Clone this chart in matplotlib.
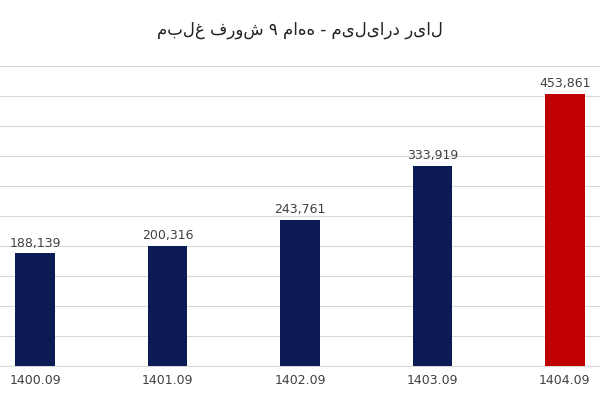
import matplotlib
matplotlib.use("Agg")
import matplotlib.pyplot as plt

categories = ["1400.09", "1401.09", "1402.09", "1403.09", "1404.09"]
values = [188139, 200316, 243761, 333919, 453861]
colors = ["#0c1a55", "#0c1a55", "#0c1a55", "#0c1a55", "#c00000"]
title = "مبلغ فروش ۹ ماهه - میلیارد ریال"

plt.rcParams['font.family'] = ['DejaVu Sans']
fig = plt.figure(figsize=(6, 4), dpi=100)
ax = fig.add_axes([0, 0.085, 1, 0.75])
x = range(len(categories))
bars = ax.bar(x, values, width=0.3, color=colors, zorder=3)
for xi, v in zip(x, values):
    ax.text(xi, v + 6000, f"{v:,}", ha="center", va="bottom", fontsize=9, color="#404040")
ax.set_xlim(-0.265, 4.265)
ax.set_ylim(0, 500000)
ax.set_yticks(range(0, 500001, 50000))
ax.yaxis.grid(True, color="#d9d9d9", lw=0.8, zorder=0)
ax.tick_params(axis="y", length=0, labelleft=False)
ax.tick_params(axis="x", length=0, labelsize=9, labelcolor="#404040", pad=6)
ax.set_xticks(list(x))
ax.set_xticklabels(categories)
for s in ["top", "right", "left"]:
    ax.spines[s].set_visible(False)
ax.spines["bottom"].set_color("#d9d9d9")
fig.text(0.5, 0.925, title, ha="center", va="center", fontsize=12, color="#222222")
fig.savefig("out.png", dpi=100, facecolor="white")
